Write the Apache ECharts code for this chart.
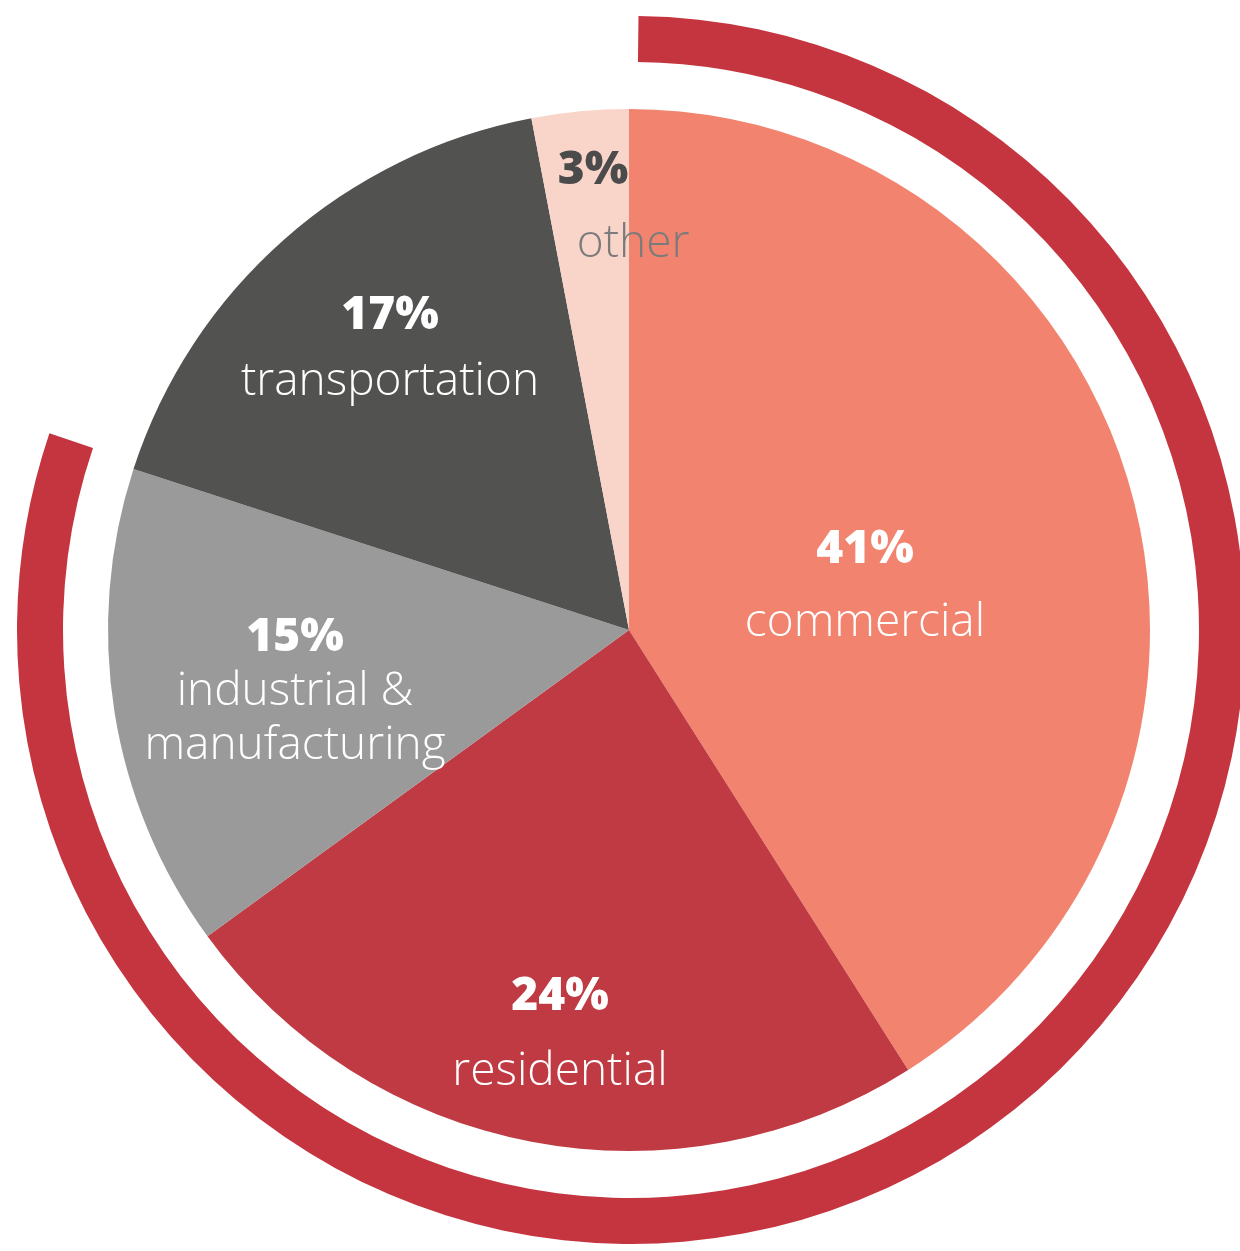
<!DOCTYPE html>
<html>
<head>
<meta charset="utf-8">
<script src="https://cdn.jsdelivr.net/npm/echarts@6/dist/echarts.min.js"></script>
<style>
  html, body { margin: 0; padding: 0; background: #ffffff; }
  #chart { width: 1240px; height: 1251px; }
</style>
</head>
<body>
<div id="chart"></div>
<script>
// Share of emissions by sector (percent)
const categories = ['commercial', 'residential', 'industrial &\nmanufacturing', 'transportation', 'other'];
const shares = [41, 24, 15, 17, 3];

// Outer arc spans the first three sectors
const ringShare = shares[0] + shares[1] + shares[2];

const sliceColors = ['#F2836F', '#BF3A42', '#9A9A9A', '#525350', '#F9D4C9'];
const ringColor = '#C5353F';

// Where each sector's label block is centred, and its line spacing
const labelCenters = [[865, 586], [560, 1034], [295, 692], [390, 349], [633, 207]];
const labelLineGap = [73, 75, 54, 66, 73];

const FONT = '"Open Sans", "Noto Sans", sans-serif';

function labelFor(i) {
  const dark = i === 4;
  return {
    show: true,
    position: 'inside',
    formatter: '{p|' + shares[i] + '%}\n{n|' + categories[i] + '}',
    rich: {
      p: {
        fontFamily: FONT,
        fontSize: 46,
        fontWeight: 800,
        color: dark ? '#4B4B4B' : '#FFFFFF',
        lineHeight: labelLineGap[i],
        align: 'center',
        padding: dark ? [0, 80, 0, 0] : 0
      },
      n: {
        fontFamily: FONT,
        fontSize: 46,
        fontWeight: 300,
        color: dark ? '#7B7B7B' : '#FFFFFF',
        lineHeight: labelLineGap[i],
        align: 'center'
      }
    }
  };
}

const pieData = categories.map((name, i) => ({
  name: name,
  value: shares[i],
  itemStyle: { color: sliceColors[i] },
  label: labelFor(i)
}));

const chart = echarts.init(document.getElementById('chart'), null, { renderer: 'canvas' });

chart.setOption({
  backgroundColor: '#ffffff',
  animation: false,
  series: [
    {
      type: 'pie',
      center: [629, 630],
      radius: [0, 521],
      startAngle: 90,
      clockwise: true,
      avoidLabelOverlap: false,
      silent: true,
      labelLine: { show: false },
      emphasis: { disabled: true },
      itemStyle: { borderWidth: 0 },
      data: pieData,
      labelLayout: function (params) {
        const c = labelCenters[params.dataIndex];
        return { x: c[0], y: c[1], align: 'center', verticalAlign: 'middle' };
      }
    },
    {
      type: 'pie',
      center: [631, 630],
      radius: [568, 614],
      startAngle: 89.3,
      clockwise: true,
      silent: true,
      label: { show: false },
      labelLine: { show: false },
      emphasis: { disabled: true },
      data: [
        { value: ringShare, itemStyle: { color: ringColor } },
        { value: 100 - ringShare, itemStyle: { color: 'rgba(0,0,0,0)' } }
      ]
    }
  ]
});
</script>
</body>
</html>
